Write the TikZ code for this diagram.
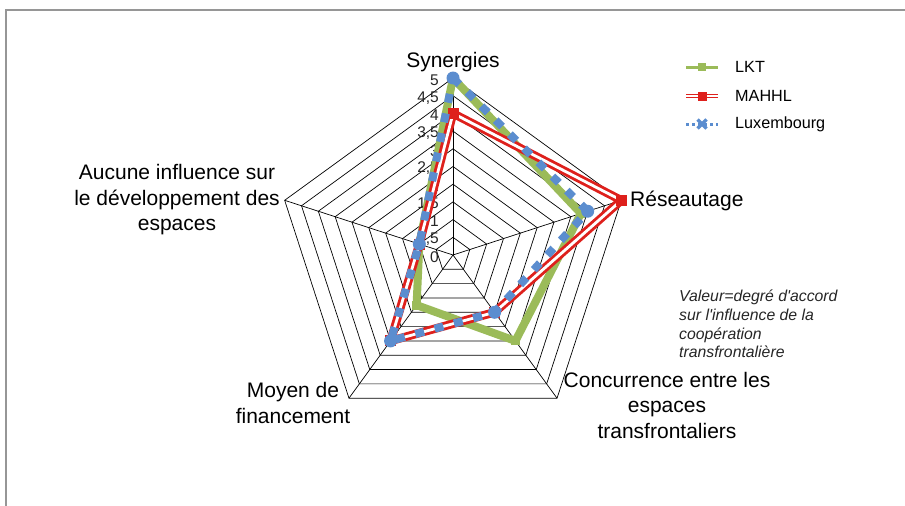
\documentclass[tikz,border=0pt]{standalone}
\usepackage{fontspec}
\setmainfont{Liberation Sans}[Ligatures=TeXOff]
\definecolor{lktgreen}{RGB}{155,187,89}
\definecolor{mahred}{RGB}{222,32,28}
\definecolor{luxblue}{RGB}{91,141,207}
\definecolor{framegray}{RGB}{150,150,150}
\tikzset{
  grid/.style={black, line width=0.7pt},
  axislab/.style={inner sep=0pt, align=center, font=\fontsize{21}{25.5}\selectfont},
  ticklab/.style={inner sep=0pt, anchor=east, font=\fontsize{15.5}{16}\selectfont, text=black!85},
  legtext/.style={inner sep=0pt, anchor=west, font=\fontsize{16.2}{17}\selectfont},
  lktline/.style={lktgreen, line width=8pt, line join=round},
  lktmark/.style={fill=lktgreen, draw=none, minimum size=9pt, inner sep=0pt},
  mahouter/.style={mahred, line width=8.5pt, line join=round},
  mahinner/.style={white, line width=2.8pt, line join=round},
  mahmark/.style={fill=mahred, draw=none, minimum size=11pt, inner sep=0pt},
  luxline/.style={luxblue, line width=8pt, dash pattern=on 9pt off 11pt},
  luxmark/.style={circle, fill=luxblue, draw=none, minimum size=13pt, inner sep=0pt},
}
\begin{document}
\begin{tikzpicture}[x=1pt,y=-1pt]
\useasboundingbox (0,0) rectangle (905,506);
\fill[white] (0,0) rectangle (905,506);
% sheet border
\draw[framegray, line width=1.6pt] (6,506) -- (6,10) -- (905,10);

% radar chart, centre of the web
\begin{scope}[shift={(453,255)}, yscale=-1]
  \def\u{35.4}
  % rings every 0,5
  \foreach \k in {1,...,10}
    \draw[grid] (90:{\k*17.7}) -- (18:{\k*17.7}) -- (-54:{\k*17.7})
      -- (-126:{\k*17.7}) -- (162:{\k*17.7}) -- cycle;
  % spokes
  \foreach \a in {90,18,-54,-126,162}
    \draw[grid] (0,0) -- (\a:177);
  % scale labels
  \foreach \v/\t in {0/0,0.5/{0,5},1/1,1.5/{1,5},2/2,2.5/{2,5},3/3,3.5/{3,5},4/4,4.5/{4,5},5/5}
    \node[ticklab] at (-14,{\v*\u-2}) {\t};

  % LKT
  \coordinate (L1) at (90:{5*\u});
  \coordinate (L2) at (18:{3.8*\u});
  \coordinate (L3) at (-54:{3*\u});
  \coordinate (L4) at (-126:{1.75*\u});
  \coordinate (L5) at (162:{1*\u});
  \draw[lktline] (L1) -- (L2) -- (L3) -- (L4) -- (L5) -- cycle;
  \foreach \p in {L1,L2,L3,L4,L5}
    \node[lktmark] (\p m) at (\p) {};

  % MAHHL
  \coordinate (M1) at (90:{4*\u});
  \coordinate (M2) at (18:{5*\u});
  \coordinate (M3) at (-54:{2*\u});
  \coordinate (M4) at (-126:{3*\u});
  \coordinate (M5) at (162:{1*\u});
  \draw[mahouter] (M1) -- (M2) -- (M3) -- (M4) -- (M5) -- cycle;
  \draw[mahinner] (M1) -- (M2) -- (M3) -- (M4) -- (M5) -- cycle;
  \foreach \p in {M1,M2,M3,M4,M5}
    \node[mahmark] (\p m) at (\p) {};

  % Luxembourg
  \coordinate (X1) at (90:{5*\u});
  \coordinate (X2) at (18:{4*\u});
  \coordinate (X3) at (-54:{2*\u});
  \coordinate (X4) at (-126:{3*\u});
  \coordinate (X5) at (162:{1*\u});
  \draw[luxline] (X1) -- (X2) -- (X3) -- (X4) -- (X5) -- cycle;
  \foreach \p in {X1,X2,X3,X4,X5}
    \node[luxmark] (\p m) at (\p) {};
\end{scope}

% axis names
\node[axislab] (syn) at (453,62) {Synergies};
\node[axislab, anchor=west] (res) at (630,201) {Réseautage};
\node[axislab] (auc) at (177,200) {Aucune influence sur\\le développement des\\espaces};
\node[axislab] (fin) at (293,403) {Moyen de\\financement};
\node[axislab] (con) at (667,405) {Concurrence entre les\\espaces\\transfrontaliers};

% legend
\coordinate (g1a) at (686,67);  \coordinate (g1b) at (718,67);
\coordinate (g2a) at (686,96);  \coordinate (g2b) at (718,96);
\coordinate (g3a) at (686,124); \coordinate (g3b) at (718,124);
\draw[lktgreen, line width=3pt] (g1a) -- (g1b);
\node[fill=lktgreen, minimum size=8pt, inner sep=0pt] (g1m) at (702,67) {};
\draw[mahred, line width=4.2pt] (g2a) -- (g2b);
\draw[white, line width=1.3pt] (g2a) -- (g2b);
\node[fill=mahred, minimum size=9pt, inner sep=0pt] (g2m) at (702,96) {};
\draw[luxblue, line width=3pt, dash pattern=on 3pt off 3pt] (g3a) -- (g3b);
\draw[luxblue, line width=3.2pt] (697.5,119.5) -- (706.5,128.5) (697.5,128.5) -- (706.5,119.5);
\node[legtext] (t1) at (735,67) {LKT};
\node[legtext] (t2) at (735,96) {MAHHL};
\node[legtext] (t3) at (735,124) {Luxembourg};

% note
\node[anchor=north west, align=left, inner sep=0pt,
      font=\itshape\fontsize{15.8}{18.7}\selectfont, text=black!85] (note) at (679,290)
  {Valeur=degré d'accord\\sur l'influence de la\\coopération\\transfrontalière};
\end{tikzpicture}
\end{document}
